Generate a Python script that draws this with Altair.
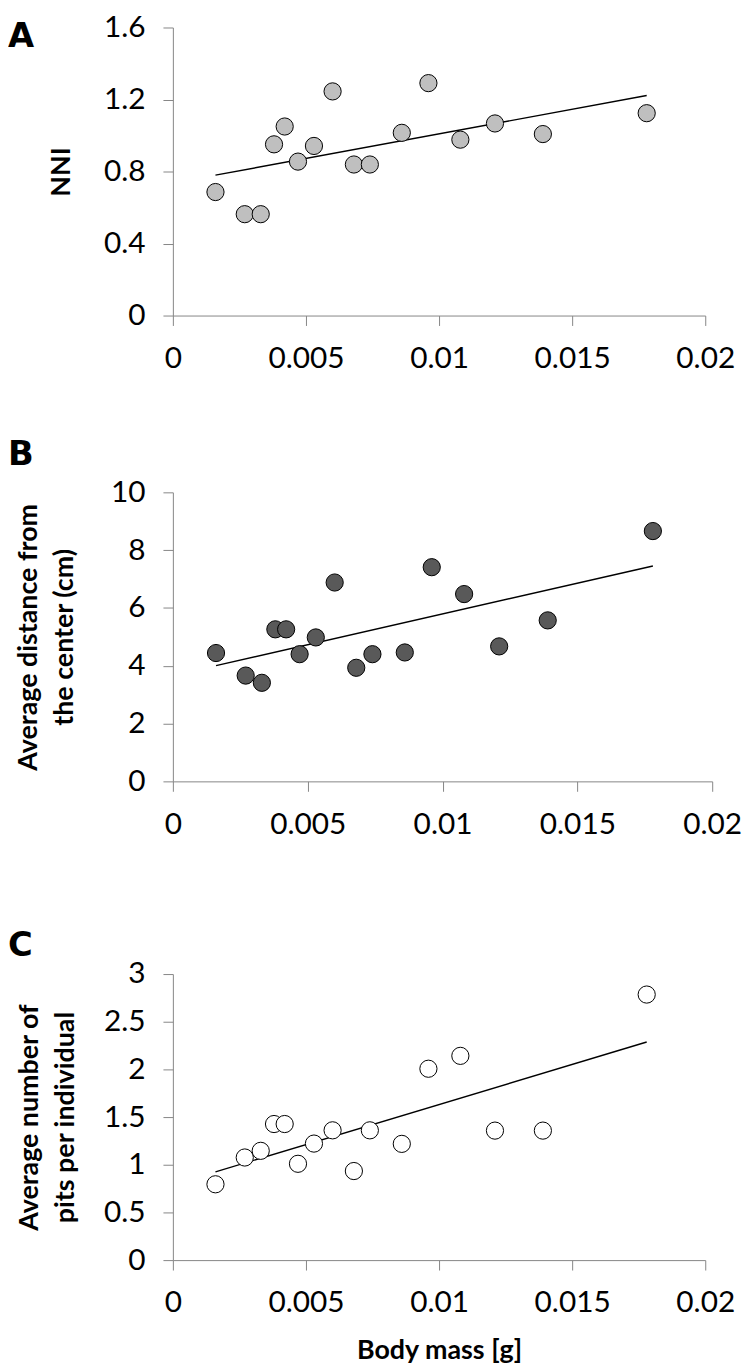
import altair as alt
import pandas as pd

# Shared x values (body mass, g)
body_mass = [0.0016, 0.0027, 0.0033, 0.0038, 0.0042, 0.0047, 0.0053, 0.0060,
             0.0068, 0.0074, 0.0086, 0.0096, 0.0108, 0.0121, 0.0139, 0.0178]
# Panel A: NNI
nni = [0.686, 0.563, 0.563, 0.951, 1.050, 0.855, 0.942, 1.245,
       0.839, 0.839, 1.015, 1.291, 0.977, 1.067, 1.008, 1.124]
# Panel B: average distance from the center (cm)
distance = [4.44, 3.66, 3.41, 5.26, 5.26, 4.40, 4.98, 6.88,
            3.93, 4.40, 4.46, 7.41, 6.48, 4.67, 5.57, 8.66]
# Panel C: average number of pits per individual
pits = [0.795, 1.076, 1.146, 1.427, 1.427, 1.010, 1.222, 1.361,
        0.934, 1.361, 1.219, 2.007, 2.142, 1.358, 1.358, 2.785]

x_ticks = [0, 0.005, 0.01, 0.015, 0.02]
a_ticks = [0, 0.4, 0.8, 1.2, 1.6]
b_ticks = [0, 2, 4, 6, 8, 10]
c_ticks = [0, 0.5, 1, 1.5, 2, 2.5, 3]

letters = ["A", "B", "C"]
y_titles = ["NNI", ["Average distance from", "the center (cm)"],
            ["Average number of", "pits per individual"]]
x_title = "Body mass [g]"


def panel(vals, letter, ytitle, ticks, fill, width, height, letter_y, title_x, xtitle=None):
    df = pd.DataFrame({"mass": body_mass, "val": vals})
    x_axis_kwargs = dict(values=x_ticks, format="~r", labelFlush=False,
                         labelOverlap=False)
    if xtitle:
        x_axis_kwargs.update(title=xtitle, titlePadding=20)
    else:
        x_axis_kwargs.update(title=None)
    xenc = alt.X("mass:Q", scale=alt.Scale(domain=[0, 0.02], nice=False),
                 axis=alt.Axis(**x_axis_kwargs))
    yenc = alt.Y("val:Q", scale=alt.Scale(domain=[ticks[0], ticks[-1]], nice=False),
                 axis=alt.Axis(values=ticks, format="~r", title=ytitle,
                               titleX=title_x, titleLineHeight=36,
                               labelOverlap=False))
    base = alt.Chart(df)
    pts = base.mark_point(filled=True, shape="circle", size=300, fill=fill,
                          stroke="black", strokeWidth=1, opacity=1).encode(x=xenc, y=yenc)
    line = base.transform_regression("mass", "val").mark_line(
        color="black", strokeWidth=1.4).encode(x=xenc, y=yenc)
    lab = alt.Chart(pd.DataFrame({"lab": [letter]})).mark_text(
        align="left", baseline="middle", font="DejaVu Sans", fontWeight="bold",
        fontSize=34, color="black").encode(
        text="lab:N", x=alt.value(-166), y=alt.value(letter_y))
    return alt.layer(line, pts, lab).properties(width=width, height=height)


pA = panel(nni, letters[0], y_titles[0], a_ticks, "#BFBFBF", 536, 290, 9.5, -98)
pB = panel(distance, letters[1], y_titles[1], b_ticks, "#595959", 543, 291, -38, -131)
pC = panel(pits, letters[2], y_titles[2], c_ticks, "#FFFFFF", 536, 288, -28, -130, xtitle=x_title)

chart = alt.vconcat(alt.vconcat(pA, pB, spacing=65), pC, spacing=91).properties(
    padding=0
).configure_axis(
    domainColor="#868686", tickColor="#868686", tickSize=10, grid=False,
    labelFont="Lato", labelFontSize=30, labelColor="black", labelPadding=18,
    titleFont="Lato", titleFontSize=27, titleFontWeight="bold", titleColor="black"
).configure_view(strokeWidth=0)

chart.save("out.html", embed_options={"renderer": "svg", "actions": False})
